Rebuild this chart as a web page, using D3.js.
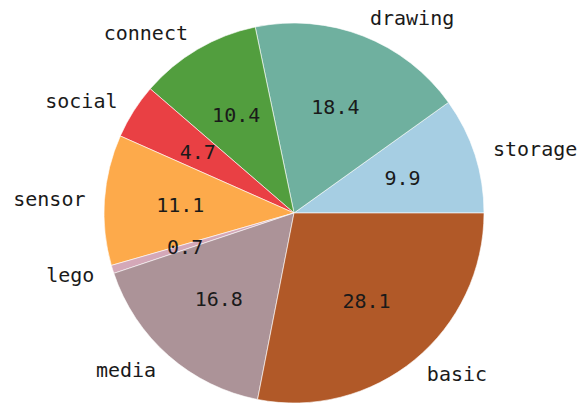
<!DOCTYPE html>
<html>
<head>
<meta charset="utf-8">
<script src="https://cdn.jsdelivr.net/npm/d3@7"></script>
<style>
  body { margin: 0; background: #fff; }
  svg text { font-family: "DejaVu Sans Mono", monospace; fill: #1a1a1a; }
</style>
</head>
<body>
<div id="chart"></div>
<script>
// slices, counter-clockwise from 3 o'clock
let categories = ['storage', 'drawing', 'connect', 'social', 'sensor', 'lego', 'media', 'basic'];
let values = [9.9, 18.4, 10.4, 4.7, 11.1, 0.7, 16.8, 28.1];
let colors = ['#a6cee3', '#6fb09f', '#529e3e', '#e94044', '#fdaa4b', '#d4a8b8', '#ac9398', '#b15928'];

let width = 579, height = 403;
let cx = 294, cy = 213, r = 190;

let svg = d3.select('#chart').append('svg')
    .attr('width', width).attr('height', height);

let g = svg.append('g').attr('transform', 'translate(' + cx + ',' + cy + ')');

let data = categories.map((c, i) => ({name: c, value: values[i], color: colors[i]}));

let pie = d3.pie().value(d => d.value).sort(null)
    .startAngle(Math.PI / 2).endAngle(Math.PI / 2 - 2 * Math.PI);

let arc = d3.arc().innerRadius(0).outerRadius(r);
let arcLabel = d3.arc().innerRadius(r * 1.1).outerRadius(r * 1.1);
let arcPct = d3.arc().innerRadius(r * 0.6).outerRadius(r * 0.6);

let arcs = pie(data);

g.selectAll('path.slice').data(arcs)
    .enter().append('path')
    .attr('class', 'slice')
    .attr('d', arc)
    .attr('fill', d => d.data.color)
    .attr('stroke', '#fff')
    .attr('stroke-width', 0.6);

g.selectAll('text.lbl').data(arcs)
    .enter().append('text')
    .attr('class', 'lbl')
    .attr('x', d => arcLabel.centroid(d)[0])
    .attr('y', d => arcLabel.centroid(d)[1])
    .attr('dy', '0.35em')
    .attr('text-anchor', d => arcLabel.centroid(d)[0] > 0 ? 'start' : 'end')
    .style('font-size', '20px')
    .text(d => d.data.name);

g.selectAll('text.pct').data(arcs)
    .enter().append('text')
    .attr('class', 'pct')
    .attr('x', d => arcPct.centroid(d)[0])
    .attr('y', d => arcPct.centroid(d)[1])
    .attr('dy', '0.35em')
    .attr('text-anchor', 'middle')
    .style('font-size', '20px')
    .text(d => d.data.value.toFixed(1));
</script>
</body>
</html>
